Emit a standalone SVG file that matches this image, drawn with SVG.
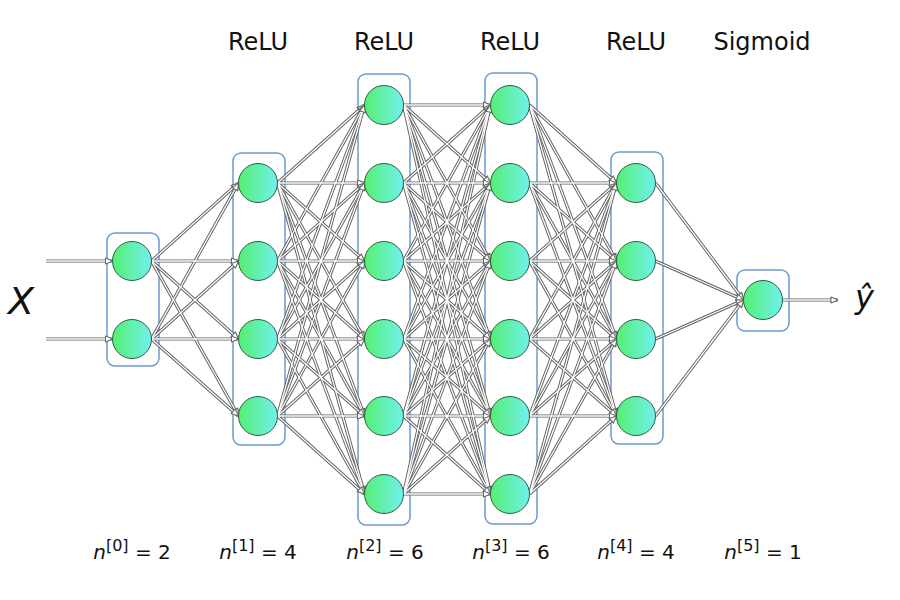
<svg xmlns="http://www.w3.org/2000/svg" xmlns:xlink="http://www.w3.org/1999/xlink" width="900" height="600" viewBox="0 0 900 600">
<style>
.box{fill:none;stroke:#6b9bd2;stroke-width:1.5}
.node{fill:url(#ng);stroke:#2f5f40;stroke-width:1}
.hdr{font-family:"DejaVu Sans",Verdana,sans-serif;font-size:24px;fill:#111;text-anchor:middle}
.dim{font-family:"DejaVu Sans",Verdana,sans-serif;font-size:20px;fill:#111;text-anchor:middle}
.sup{font-size:16px}
.var{font-family:"DejaVu Sans",Verdana,sans-serif;font-style:italic;fill:#111}
</style>
<defs>
<linearGradient id="ng" x1="0" y1="0" x2="1" y2="0">
<stop offset="0" stop-color="#55ef72"/>
<stop offset="1" stop-color="#70f1ee"/>
</linearGradient>
<marker id="ah" markerUnits="userSpaceOnUse" markerWidth="9" markerHeight="8" refX="7" refY="3" orient="auto" overflow="visible">
<path d="M0,0 L7,3 L0,6 z" fill="#fff" stroke="#666" stroke-width="1"/>
</marker>
<g id="wires" fill="none" marker-end="url(#ah)">
<path d="M46 261 L112.5 261"/>
<path d="M46 339 L112.5 339"/>
<path d="M151.5 261 L238.5 183"/><path d="M151.5 261 L238.5 261"/><path d="M151.5 261 L238.5 339"/><path d="M151.5 261 L238.5 416"/>
<path d="M151.5 339 L238.5 183"/><path d="M151.5 339 L238.5 261"/><path d="M151.5 339 L238.5 339"/><path d="M151.5 339 L238.5 416"/>
<path d="M277.5 183 L364.5 105"/><path d="M277.5 183 L364.5 183"/><path d="M277.5 183 L364.5 261"/><path d="M277.5 183 L364.5 339"/><path d="M277.5 183 L364.5 416"/><path d="M277.5 183 L364.5 494"/>
<path d="M277.5 261 L364.5 105"/><path d="M277.5 261 L364.5 183"/><path d="M277.5 261 L364.5 261"/><path d="M277.5 261 L364.5 339"/><path d="M277.5 261 L364.5 416"/><path d="M277.5 261 L364.5 494"/>
<path d="M277.5 339 L364.5 105"/><path d="M277.5 339 L364.5 183"/><path d="M277.5 339 L364.5 261"/><path d="M277.5 339 L364.5 339"/><path d="M277.5 339 L364.5 416"/><path d="M277.5 339 L364.5 494"/>
<path d="M277.5 416 L364.5 105"/><path d="M277.5 416 L364.5 183"/><path d="M277.5 416 L364.5 261"/><path d="M277.5 416 L364.5 339"/><path d="M277.5 416 L364.5 416"/><path d="M277.5 416 L364.5 494"/>
<path d="M403.5 105 L490.5 105"/><path d="M403.5 105 L490.5 183"/><path d="M403.5 105 L490.5 261"/><path d="M403.5 105 L490.5 339"/><path d="M403.5 105 L490.5 416"/><path d="M403.5 105 L490.5 494"/>
<path d="M403.5 183 L490.5 105"/><path d="M403.5 183 L490.5 183"/><path d="M403.5 183 L490.5 261"/><path d="M403.5 183 L490.5 339"/><path d="M403.5 183 L490.5 416"/><path d="M403.5 183 L490.5 494"/>
<path d="M403.5 261 L490.5 105"/><path d="M403.5 261 L490.5 183"/><path d="M403.5 261 L490.5 261"/><path d="M403.5 261 L490.5 339"/><path d="M403.5 261 L490.5 416"/><path d="M403.5 261 L490.5 494"/>
<path d="M403.5 339 L490.5 105"/><path d="M403.5 339 L490.5 183"/><path d="M403.5 339 L490.5 261"/><path d="M403.5 339 L490.5 339"/><path d="M403.5 339 L490.5 416"/><path d="M403.5 339 L490.5 494"/>
<path d="M403.5 416 L490.5 105"/><path d="M403.5 416 L490.5 183"/><path d="M403.5 416 L490.5 261"/><path d="M403.5 416 L490.5 339"/><path d="M403.5 416 L490.5 416"/><path d="M403.5 416 L490.5 494"/>
<path d="M403.5 494 L490.5 105"/><path d="M403.5 494 L490.5 183"/><path d="M403.5 494 L490.5 261"/><path d="M403.5 494 L490.5 339"/><path d="M403.5 494 L490.5 416"/><path d="M403.5 494 L490.5 494"/>
<path d="M529.5 105 L616.5 183"/><path d="M529.5 105 L616.5 261"/><path d="M529.5 105 L616.5 339"/><path d="M529.5 105 L616.5 416"/>
<path d="M529.5 183 L616.5 183"/><path d="M529.5 183 L616.5 261"/><path d="M529.5 183 L616.5 339"/><path d="M529.5 183 L616.5 416"/>
<path d="M529.5 261 L616.5 183"/><path d="M529.5 261 L616.5 261"/><path d="M529.5 261 L616.5 339"/><path d="M529.5 261 L616.5 416"/>
<path d="M529.5 339 L616.5 183"/><path d="M529.5 339 L616.5 261"/><path d="M529.5 339 L616.5 339"/><path d="M529.5 339 L616.5 416"/>
<path d="M529.5 416 L616.5 183"/><path d="M529.5 416 L616.5 261"/><path d="M529.5 416 L616.5 339"/><path d="M529.5 416 L616.5 416"/>
<path d="M529.5 494 L616.5 183"/><path d="M529.5 494 L616.5 261"/><path d="M529.5 494 L616.5 339"/><path d="M529.5 494 L616.5 416"/>
<path d="M655.5 183 L743.5 300"/><path d="M655.5 261 L743.5 300"/><path d="M655.5 339 L743.5 300"/><path d="M655.5 416 L743.5 300"/>
<path d="M782.5 300 L838 300"/>
</g>
</defs>

<g id="layer-boxes">
<rect id="box0" class="box" x="107" y="233" width="52" height="133" rx="8"/>
<rect id="box1" class="box" x="233" y="153" width="52" height="292" rx="8"/>
<rect id="box2" class="box" x="358" y="74" width="52" height="451" rx="8"/>
<rect id="box3" class="box" x="485" y="73" width="52" height="451" rx="8"/>
<rect id="box4" class="box" x="611" y="152" width="52" height="292" rx="8"/>
<rect id="box5" class="box" x="737" y="270" width="52" height="61" rx="8"/>
</g>

<g id="connectors">
<use xlink:href="#wires" href="#wires" stroke="#606060" stroke-width="3.2"/>
<use xlink:href="#wires" href="#wires" stroke="#ffffff" stroke-width="1.3"/>
</g>

<g id="L0N1"><circle class="node" cx="132" cy="261" r="19.5"/></g>
<g id="L0N2"><circle class="node" cx="132" cy="339" r="19.5"/></g>
<g id="L1N1"><circle class="node" cx="258" cy="183" r="19.5"/></g>
<g id="L1N2"><circle class="node" cx="258" cy="261" r="19.5"/></g>
<g id="L1N3"><circle class="node" cx="258" cy="339" r="19.5"/></g>
<g id="L1N4"><circle class="node" cx="258" cy="416" r="19.5"/></g>
<g id="L2N1"><circle class="node" cx="384" cy="105" r="19.5"/></g>
<g id="L2N2"><circle class="node" cx="384" cy="183" r="19.5"/></g>
<g id="L2N3"><circle class="node" cx="384" cy="261" r="19.5"/></g>
<g id="L2N4"><circle class="node" cx="384" cy="339" r="19.5"/></g>
<g id="L2N5"><circle class="node" cx="384" cy="416" r="19.5"/></g>
<g id="L2N6"><circle class="node" cx="384" cy="494" r="19.5"/></g>
<g id="L3N1"><circle class="node" cx="510" cy="105" r="19.5"/></g>
<g id="L3N2"><circle class="node" cx="510" cy="183" r="19.5"/></g>
<g id="L3N3"><circle class="node" cx="510" cy="261" r="19.5"/></g>
<g id="L3N4"><circle class="node" cx="510" cy="339" r="19.5"/></g>
<g id="L3N5"><circle class="node" cx="510" cy="416" r="19.5"/></g>
<g id="L3N6"><circle class="node" cx="510" cy="494" r="19.5"/></g>
<g id="L4N1"><circle class="node" cx="636" cy="183" r="19.5"/></g>
<g id="L4N2"><circle class="node" cx="636" cy="261" r="19.5"/></g>
<g id="L4N3"><circle class="node" cx="636" cy="339" r="19.5"/></g>
<g id="L4N4"><circle class="node" cx="636" cy="416" r="19.5"/></g>
<g id="L5N1"><circle class="node" cx="763" cy="300" r="19.5"/></g>

<g id="headers">
<text class="hdr" x="258" y="50">ReLU</text>
<text class="hdr" x="384" y="50">ReLU</text>
<text class="hdr" x="510" y="50">ReLU</text>
<text class="hdr" x="636" y="50">ReLU</text>
<text class="hdr" x="762" y="50">Sigmoid</text>
</g>

<g id="dims">
<text class="dim" x="132" y="559"><tspan font-style="italic">n</tspan><tspan class="sup" dy="-8">[0]</tspan><tspan dy="8"> = 2</tspan></text>
<text class="dim" x="258" y="559"><tspan font-style="italic">n</tspan><tspan class="sup" dy="-8">[1]</tspan><tspan dy="8"> = 4</tspan></text>
<text class="dim" x="385" y="559"><tspan font-style="italic">n</tspan><tspan class="sup" dy="-8">[2]</tspan><tspan dy="8"> = 6</tspan></text>
<text class="dim" x="511" y="559"><tspan font-style="italic">n</tspan><tspan class="sup" dy="-8">[3]</tspan><tspan dy="8"> = 6</tspan></text>
<text class="dim" x="636" y="559"><tspan font-style="italic">n</tspan><tspan class="sup" dy="-8">[4]</tspan><tspan dy="8"> = 4</tspan></text>
<text class="dim" x="763" y="559"><tspan font-style="italic">n</tspan><tspan class="sup" dy="-8">[5]</tspan><tspan dy="8"> = 1</tspan></text>
</g>

<g id="io">
<text class="var" x="8" y="314" font-size="38">X</text>
<text class="var" x="855" y="308" font-size="32">ŷ</text>
</g>
</svg>
